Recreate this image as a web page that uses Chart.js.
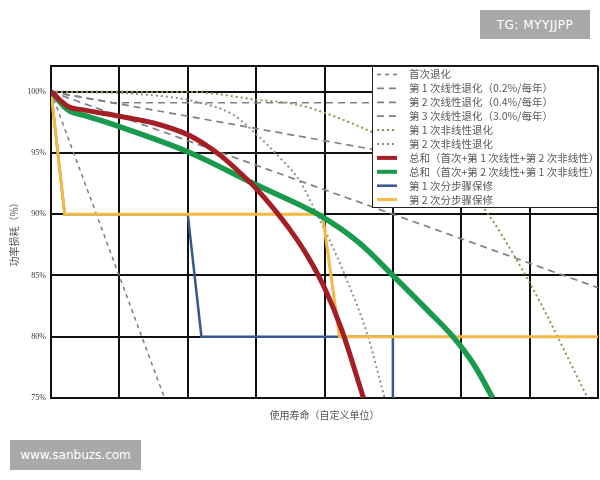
<!DOCTYPE html>
<html>
<head>
<meta charset="utf-8">
<script src="https://cdn.jsdelivr.net/npm/chart.js@4.4.1/dist/chart.umd.min.js"></script>
<style>
  html, body { margin: 0; padding: 0; background: #fff; }
  #wrap { position: relative; width: 600px; height: 480px; }
  .mark {
    position: absolute; background: #a9a9a9; color: #fff;
    font-family: "DejaVu Sans", sans-serif; font-size: 12px;
    display: flex; align-items: center; justify-content: center;
  }
</style>
</head>
<body>
<div id="wrap">
  <canvas id="chart" width="600" height="480"></canvas>
  <div class="mark" style="left:480px;top:10px;width:110px;height:29px;letter-spacing:0.5px;">TG: MYYJJPP</div>
  <div class="mark" style="left:10px;top:440px;width:131px;height:30px;">www.sanbuzs.com</div>
</div>
<script>
// axis ticks
const xTicks = [0, 1, 2, 3, 4, 5, 6, 7, 8];
const yTicks = [75, 80, 85, 90, 95, 100];
const yTickLabels = ['75%', '80%', '85%', '90%', '95%', '100%'];

// series names (legend order)
const seriesNames = [
  '首次退化',
  '第 1 次线性退化（0.2%/每年）',
  '第 2 次线性退化（0.4%/每年）',
  '第 3 次线性退化（3.0%/每年）',
  '第 1 次非线性退化',
  '第 2 次非线性退化',
  '总和（首次+第 1 次线性+第 2 次非线性）',
  '总和（首次+第 2 次线性+第 1 次非线性）',
  '第 1 次分步骤保修',
  '第 2 次分步骤保修'
];

// series values, [life, power %]
const initialDeg = [[0, 100], [1.66, 75]];
const linear1 = [[0, 100], [0.9, 99.1], [8, 99.1]];
const linear2 = [[0, 100], [8, 92]];
const linear3 = [[0, 100], [8, 84]];
const nonlinear1 = [[0, 100], [2, 100], [3, 99.35], [3.64, 98.9], [4.66, 96.8], [5.5, 94.5], [6.23, 91.2], [7, 84.4], [7.85, 75]];
const nonlinear2 = [[0, 100], [1.3, 99.8], [2.19, 99.1], [2.67, 98.1], [3.01, 96.5], [3.35, 94.6], [3.64, 92.7], [3.89, 90.0], [4.04, 88.3], [4.3, 85], [4.62, 80.3], [4.88, 75]];
const total1 = [[0, 100], [0.25, 98.8], [0.5, 98.5], [1, 98.0], [1.5, 97.45], [2, 96.5], [2.25, 95.7], [2.5, 94.7], [2.8, 93.2], [3.0, 92.1], [3.25, 90.5], [3.5, 88.7], [3.75, 86.6], [4.0, 84.0], [4.25, 80.6], [4.57, 75]];
const total2 = [[0, 100], [0.25, 98.5], [0.5, 98.05], [1, 97.15], [2, 95.1], [3, 92.4], [3.9, 90.0], [4.5, 87.7], [5.0, 85.0], [5.5, 82.2], [5.88, 80.0], [6.2, 77.6], [6.46, 75]];
const warranty1 = [[0, 100], [0.2, 90], [2.0, 90], [2.2, 80], [5.0, 80], [5.0, 75]];
const warranty2 = [[0, 100], [0.2, 90], [3.97, 90], [4.22, 80], [8, 80]];

const toXY = arr => arr.map(p => ({ x: p[0], y: p[1] }));

function lineSet(i, data, color, width, dash, smooth, order) {
  return {
    label: seriesNames[i],
    data: toXY(data),
    borderColor: color,
    borderWidth: width,
    borderDash: dash,
    pointRadius: 0,
    fill: false,
    tension: smooth ? 0.4 : 0,
    cubicInterpolationMode: smooth ? 'monotone' : 'default',
    order: order
  };
}

const datasets = [
  lineSet(0, initialDeg, '#7a7a7a', 1.5, [4, 4], false, 9),
  lineSet(1, linear1, '#808080', 1.7, [7, 5], false, 9),
  lineSet(2, linear2, '#808080', 1.7, [7, 5], false, 9),
  lineSet(3, linear3, '#808080', 1.7, [7, 5], false, 9),
  lineSet(4, nonlinear1, '#978d55', 2, [2, 3], true, 8),
  lineSet(5, nonlinear2, '#8a8f9a', 2, [2, 3], true, 8),
  lineSet(6, total1, '#a51d25', 5, [], true, 1),
  lineSet(7, total2, '#1a9a4c', 5.5, [], true, 2),
  lineSet(8, warranty1, '#35598f', 2.5, [], false, 4),
  lineSet(9, warranty2, '#f4b942', 3, [], false, 3)
];

// top frame line
const frameTop = {
  id: 'frameTop',
  beforeDatasetsDraw(chart) {
    const { ctx, chartArea: a } = chart;
    ctx.save();
    ctx.strokeStyle = '#111';
    ctx.lineWidth = 2;
    ctx.beginPath();
    ctx.moveTo(a.left, a.top);
    ctx.lineTo(a.right, a.top);
    ctx.stroke();
    ctx.restore();
  }
};

// legend box inside the plot, top right
const legendBox = {
  id: 'legendBox',
  afterDraw(chart) {
    const { ctx, chartArea: a } = chart;
    const x0 = a.right - 226, y0 = a.top, w = 226, h = 141;
    ctx.save();
    ctx.fillStyle = '#fff';
    ctx.fillRect(x0, y0, w, h);
    ctx.strokeStyle = '#222';
    ctx.lineWidth = 1;
    ctx.strokeRect(x0 + 0.5, y0 + 0.5, w - 1, h);
    chart.data.datasets.forEach((ds, i) => {
      const y = y0 + 8.5 + i * 13.9;
      ctx.beginPath();
      ctx.setLineDash(ds.borderDash || []);
      ctx.strokeStyle = ds.borderColor;
      ctx.lineWidth = Math.min(ds.borderWidth, 4);
      ctx.moveTo(x0 + 5, y);
      ctx.lineTo(x0 + 25, y);
      ctx.stroke();
      ctx.setLineDash([]);
      ctx.fillStyle = '#5a5a5a';
      ctx.font = '10.5px "Noto Sans CJK SC"';
      ctx.textBaseline = 'middle';
      ctx.fillText(ds.label, x0 + 37, y);
    });
    ctx.restore();
  }
};

new Chart(document.getElementById('chart'), {
  type: 'line',
  data: { datasets: datasets },
  plugins: [frameTop, legendBox],
  options: {
    responsive: false,
    animation: false,
    layout: { padding: { top: 66, right: 2, left: 0, bottom: 0 } },
    plugins: { legend: { display: false }, tooltip: { enabled: false } },
    scales: {
      x: {
        type: 'linear',
        min: 0,
        max: 8,
        afterBuildTicks: s => { s.ticks = xTicks.map(v => ({ value: v })); },
        ticks: { display: false },
        grid: { color: '#111', lineWidth: 2, drawTicks: false },
        border: { color: '#111', width: 2 },
        title: {
          display: true,
          text: '使用寿命（自定义单位）',
          color: '#555',
          font: { family: '"Noto Sans CJK SC"', size: 10 },
          padding: { top: 0, bottom: 59 }
        },
        afterFit: s => { s.height = 82; }
      },
      y: {
        type: 'linear',
        min: 75,
        max: 102.1,
        afterBuildTicks: s => { s.ticks = yTicks.map(v => ({ value: v })); },
        ticks: {
          callback: v => yTickLabels[yTicks.indexOf(v)],
          color: '#333',
          font: { family: '"Liberation Serif"', size: 8 },
          padding: 5
        },
        grid: { color: '#111', lineWidth: 2, drawTicks: false },
        border: { color: '#111', width: 2 },
        title: {
          display: true,
          text: '功率损耗（%）',
          color: '#555',
          font: { family: '"Noto Sans CJK SC"', size: 10 },
          padding: { top: 8, bottom: 0 }
        },
        afterFit: s => { s.width = 51; }
      }
    }
  }
});
</script>
</body>
</html>
